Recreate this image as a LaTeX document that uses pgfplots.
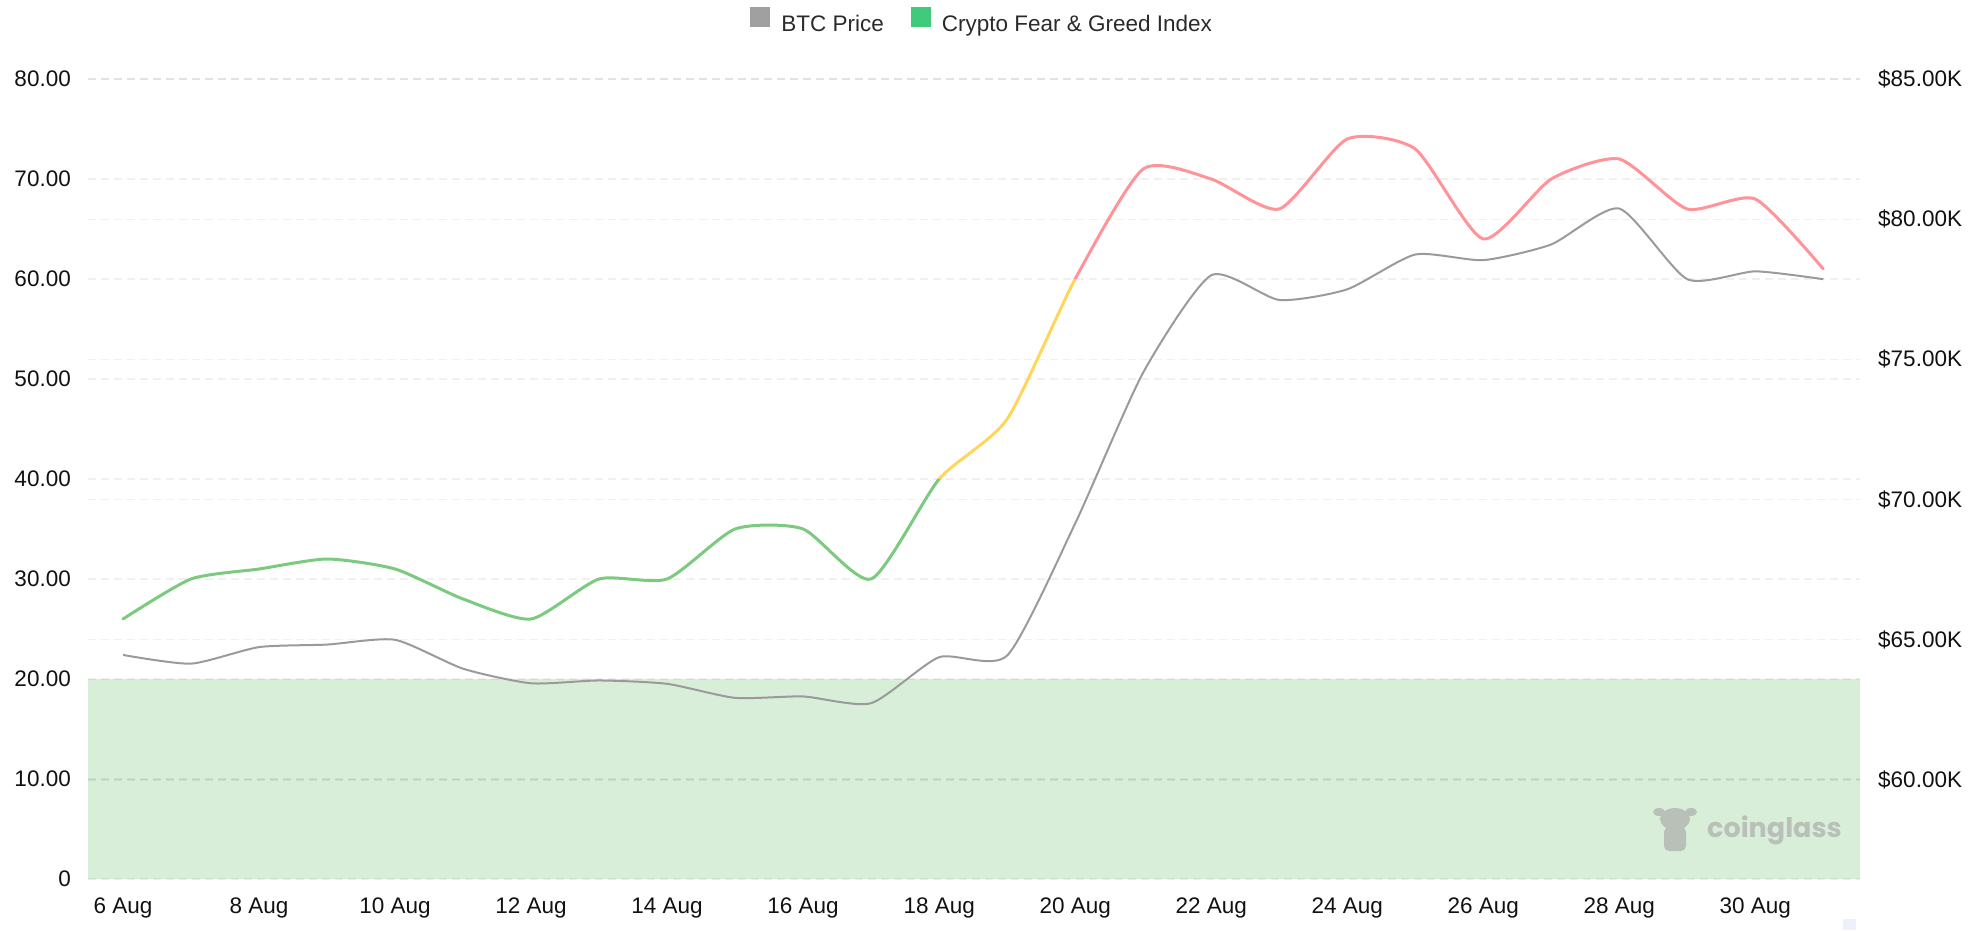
\documentclass[border=0pt]{standalone}
\usepackage{fontspec}
\setmainfont{Liberation Sans}
\newfontfamily\wmfont{Poppins}
\usepackage{pgfplots}
\usepackage{pgfplotstable}
\pgfplotsset{compat=1.18}

\definecolor{fgGreen}{HTML}{7CC980}
\definecolor{fgYellow}{HTML}{FFD65A}
\definecolor{fgRed}{HTML}{FF9398}
\definecolor{btc}{HTML}{9A9A9A}
\definecolor{zone}{HTML}{D8EED9}
\definecolor{legGray}{HTML}{A0A0A0}
\definecolor{legGreen}{HTML}{3FCB7B}
\definecolor{wm}{HTML}{B8C0B8}
\definecolor{txt}{HTML}{111111}
\definecolor{legtxt}{HTML}{2A2A2A}
\definecolor{lav}{HTML}{EEF0FB}

\pgfplotstableread{
i fg btc
0 26 64460
1 30 64150
2 31 64740
3 32 64830
4 31 65000
5 28 63970
6 26 63450
7 30 63550
8 30 63430
9 35 62930
10 35 62980
11 30 62740
12 40 64380
13 46 64440
14 60 69150
15 71 74530
16 70 78000
17 67 77120
18 74 77500
19 73 78740
20 64 78540
21 70 79100
22 72 80380
23 67 77860
24 68 78140
25 61 77860
}\data

\pgfplotsset{
  base/.style={
    scale only axis, width=1772pt, height=800pt,
    at={(88pt,51pt)}, anchor=south west,
    xmin=-0.515, xmax=25.54,
    axis line style={draw=none}, tick style={draw=none}, major tick length=0pt,
    ticklabel style={font=\fontsize{22.5}{26}\selectfont, text=txt, inner sep=0pt},
    grid style={dash pattern=on 8pt off 5pt, line width=1.3pt, draw=black, opacity=0.06},
  }
}

\begin{document}
\begin{tikzpicture}
\path[use as bounding box] (0,0) rectangle (1988pt,930pt);

% left axis: zone, grid, labels, legend
\begin{axis}[base,
  ymin=0, ymax=80,
  ytick={0,10,20,30,40,50,60,70,80},
  yticklabels={0,10.00,20.00,30.00,40.00,50.00,60.00,70.00,80.00},
  xtick={0,2,4,6,8,10,12,14,16,18,20,22,24},
  xticklabels={6 Aug,8 Aug,10 Aug,12 Aug,14 Aug,16 Aug,18 Aug,20 Aug,22 Aug,24 Aug,26 Aug,28 Aug,30 Aug},
  yticklabel style={xshift=-17pt},
  xticklabel style={yshift=-19pt},
  ymajorgrids, axis on top,
  legend image code/.code={\fill[#1] (0pt,-3pt) rectangle (20pt,17pt);},
  legend style={at={(0.504,1.074)}, anchor=center, draw=none, fill=none,
    legend columns=2, font=\fontsize{22.5}{26}\selectfont, text=legtxt,
    inner sep=0pt, nodes={inner sep=0pt},
    /tikz/every even column/.append style={column sep=27pt},
    /tikz/every odd column/.append style={column sep=11pt}},
]
\addplot[fill=zone, draw=none, forget plot] coordinates {(-1,0) (27,0) (27,20) (-1,20) (-1,0)};
\addlegendimage{fill=legGray, draw=none}
\addlegendentry{BTC Price}
\addlegendimage{fill=legGreen, draw=none}
\addlegendentry{Crypto Fear \& Greed Index}
\end{axis}

% right axis: BTC price
\begin{axis}[base,
  ymin=56470, ymax=85000,
  ytick={60000,65000,70000,75000,80000,85000},
  yticklabels={\$60.00K,\$65.00K,\$70.00K,\$75.00K,\$80.00K,\$85.00K},
  scaled y ticks=false,
  yticklabel pos=right,
  yticklabel style={xshift=18pt},
  xtick=\empty,
  ymajorgrids,
]
\addplot[btc, line width=2pt, smooth, tension=0.38] table[x=i,y=btc]{\data};
\end{axis}

% Fear & Greed index, coloured by level
\begin{axis}[base, ymin=0, ymax=80, hide axis]
\begin{scope}
\clip (axis cs:-1,0) rectangle (axis cs:27,40);
\addplot[fgGreen, line width=3pt, smooth, tension=0.38, line cap=round] table[x=i,y=fg]{\data};
\end{scope}
\begin{scope}
\clip (axis cs:-1,40) rectangle (axis cs:27,60);
\addplot[fgYellow, line width=3pt, smooth, tension=0.38] table[x=i,y=fg]{\data};
\end{scope}
\begin{scope}
\clip (axis cs:-1,60) rectangle (axis cs:27,80);
\addplot[fgRed, line width=3pt, smooth, tension=0.38, line cap=round] table[x=i,y=fg]{\data};
\end{scope}
\end{axis}

% watermark
\node[anchor=west, font=\wmfont\bfseries\fontsize{27}{30}\selectfont, text=wm, inner sep=0pt] at (1707pt,100pt) {coinglass};
\fill[wm] (1675pt,111pt) ellipse [x radius=15pt, y radius=11pt];
\fill[wm] (1659pt,118pt) ellipse [x radius=6pt, y radius=4pt];
\fill[wm] (1691pt,118pt) ellipse [x radius=6pt, y radius=4pt];
\fill[wm, rounded corners=5pt] (1664pt,79pt) rectangle (1686pt,103pt);
\fill[lav] (1843pt,0pt) rectangle (1856pt,11pt);
\end{tikzpicture}
\end{document}
